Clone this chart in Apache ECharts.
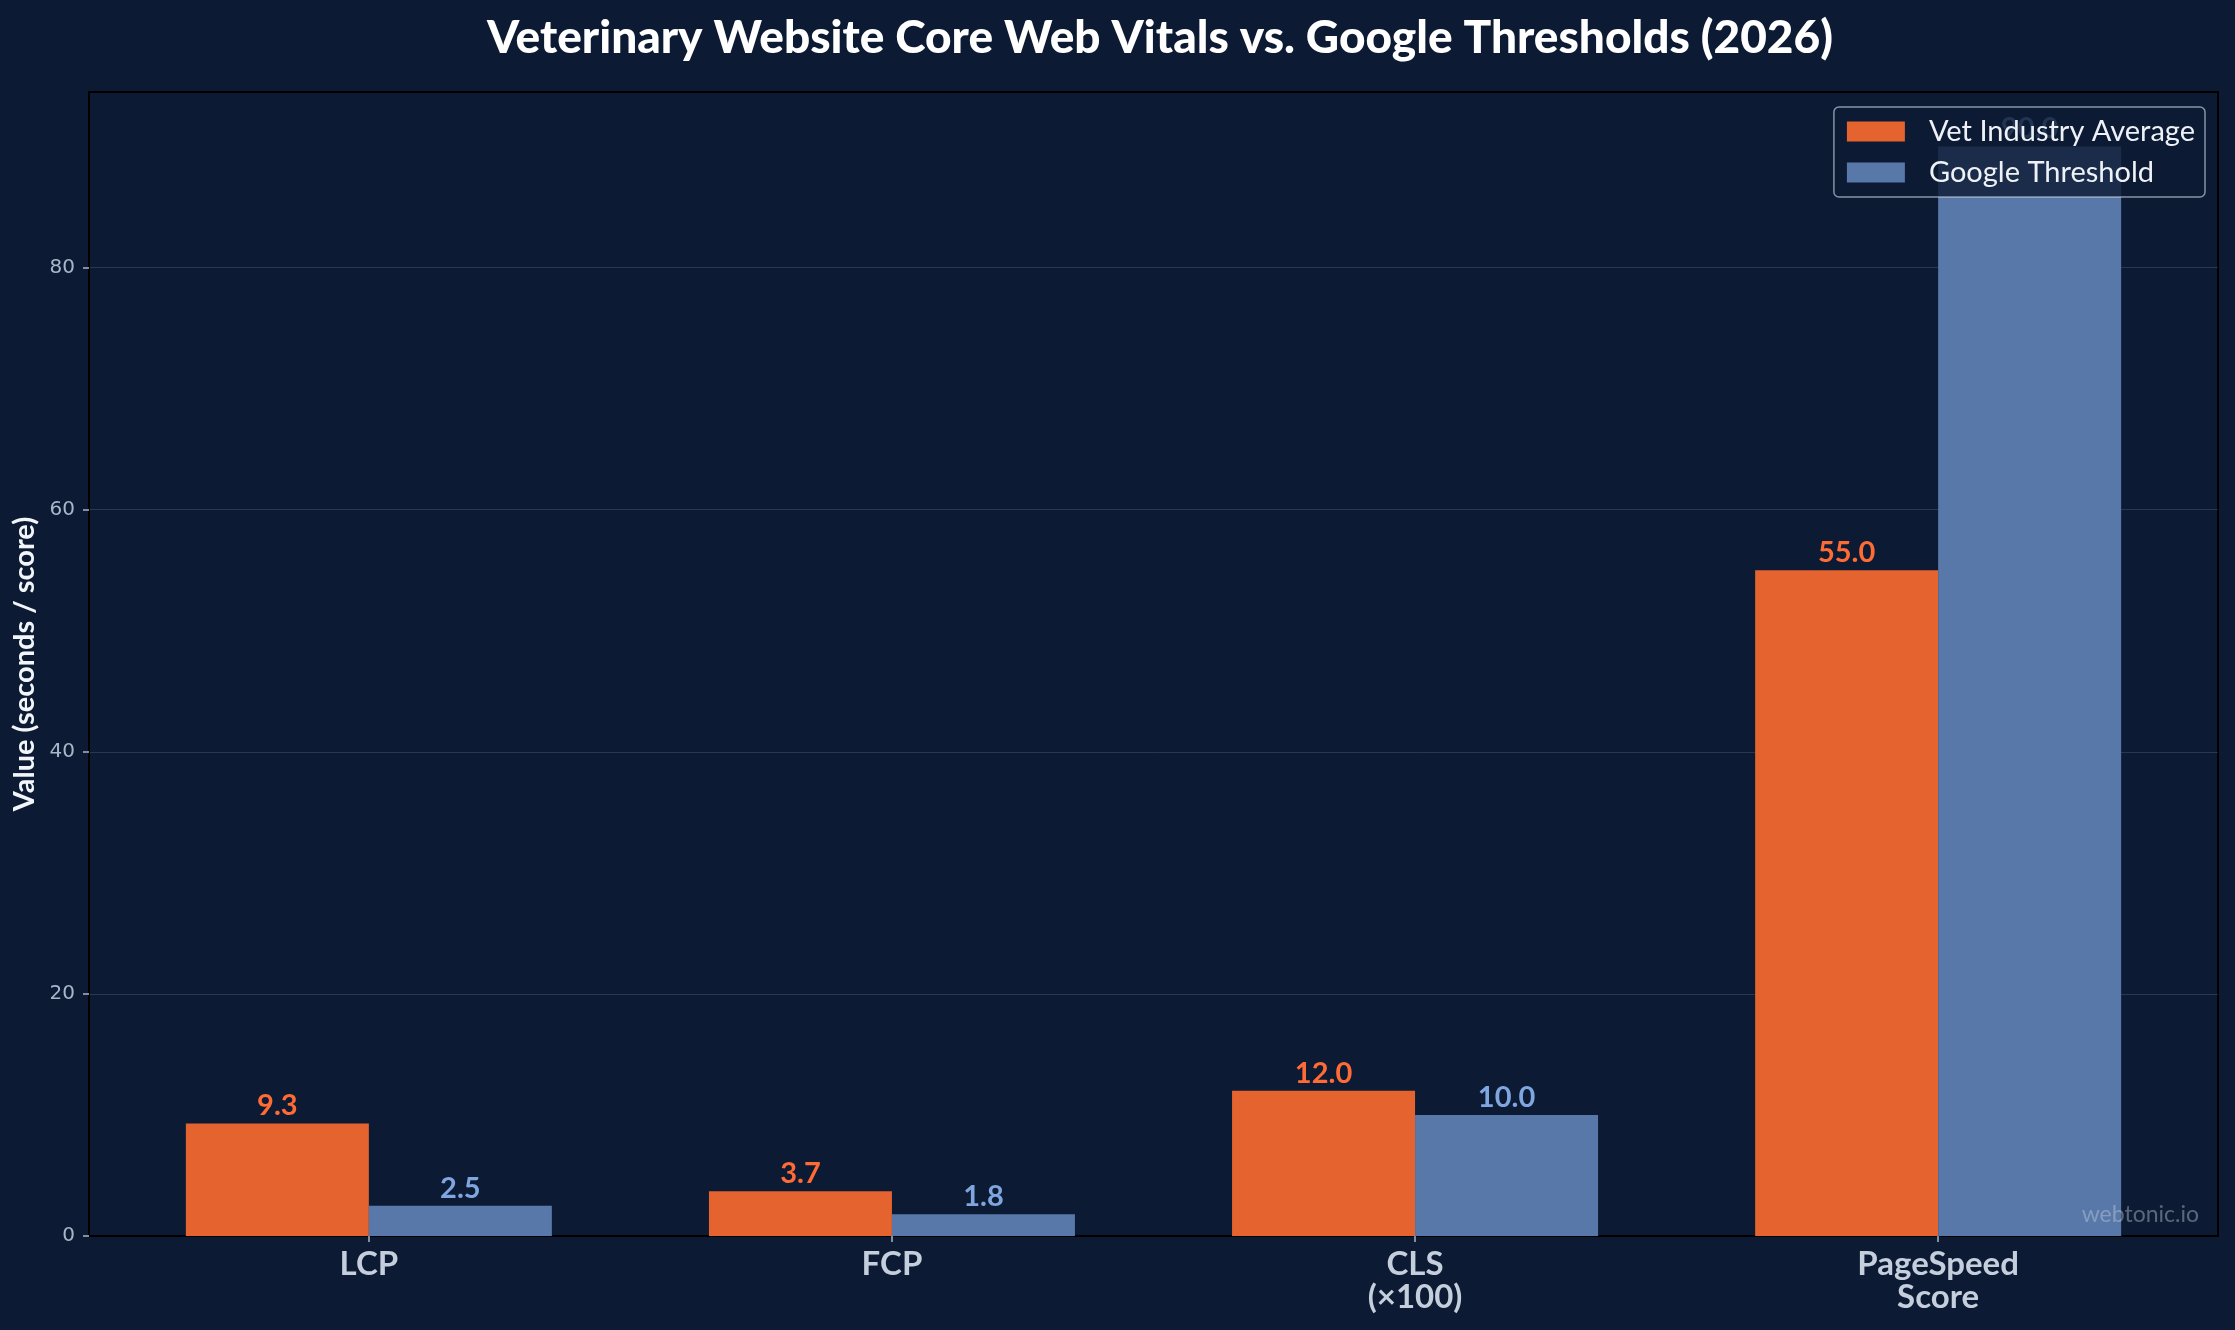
<!DOCTYPE html>
<html>
<head>
<meta charset="utf-8">
<title>Veterinary Website Core Web Vitals</title>
<script src="https://cdn.jsdelivr.net/npm/echarts@6/dist/echarts.min.js"></script>
<style>
    html, body { margin: 0; padding: 0; background: #0c1b33; }
    #chart { width: 2235px; height: 1330px; }
</style>
</head>
<body>
<div id="chart"></div>
<script>
var categories = ['LCP', 'FCP', 'CLS\n(×100)', 'PageSpeed\nScore'];
var vetAverage = [9.3, 3.7, 12.0, 55.0];
var googleThreshold = [2.5, 1.8, 10.0, 90.0];
var yTicks = [0, 20, 40, 60, 80];

function toPoints(values) {
    var pts = [];
    values.forEach(function (v, i) { pts.push([i, v]); });
    return pts;
}

var chartDom = document.getElementById('chart');
var myChart = echarts.init(chartDom);
var option;

option = {
    backgroundColor: '#0c1b33',
    animation: false,
    title: {
        text: 'Veterinary Website Core Web Vitals vs. Google Thresholds (2026)',
        left: 1155,
        textAlign: 'center',
        top: 10,
        textStyle: {
            color: '#ffffff',
            fontFamily: 'Lato',
            fontWeight: 900,
            fontSize: 46
        }
    },
    grid: {
        left: 89,
        right: 17,
        top: 92,
        bottom: 94,
        outerBoundsMode: 'none',
        show: true,
        backgroundColor: '#0c1b33',
        borderColor: '#000000',
        borderWidth: 2
    },
    legend: {
        data: ['Vet Industry Average', 'Google Threshold'],
        orient: 'vertical',
        right: 30,
        top: 107,
        icon: 'rect',
        itemWidth: 58,
        itemHeight: 20,
        itemGap: 12,
        padding: [10, 10, 10, 13],
        backgroundColor: 'rgba(12,27,51,0.82)',
        borderColor: 'rgba(200,210,225,0.65)',
        borderWidth: 1.5,
        borderRadius: 5,
        textStyle: {
            color: '#eef2f8',
            fontFamily: 'Lato',
            fontSize: 29,
            padding: [0, 0, 0, 19]
        }
    },
    xAxis: {
        type: 'value',
        min: -0.535,
        max: 3.535,
        splitLine: { show: false },
        axisLine: { show: true, onZero: false, lineStyle: { color: '#000000', width: 2 } },
        axisTick: {
            show: true,
            customValues: [0, 1, 2, 3],
            length: 6,
            lineStyle: { color: '#a9b5c8', width: 1.5 }
        },
        axisLabel: {
            customValues: [0, 1, 2, 3],
            margin: 12,
            color: '#c5cedd',
            fontFamily: 'Lato',
            fontWeight: 'bold',
            fontSize: 33,
            lineHeight: 33,
            formatter: function (v) {
                return categories[Math.round(v)];
            }
        }
    },
    yAxis: {
        type: 'value',
        min: 0,
        max: 94.5,
        interval: 20,
        name: 'Value (seconds / score)',
        nameLocation: 'middle',
        nameGap: 50,
        nameRotate: 90,
        nameTextStyle: {
            color: '#f2f5fa',
            fontFamily: 'Lato',
            fontWeight: 'bold',
            fontSize: 29
        },
        axisLine: { show: true, onZero: false, lineStyle: { color: '#000000', width: 2 } },
        axisTick: {
            show: true,
            length: 6,
            customValues: yTicks,
            lineStyle: { color: '#a9b5c8', width: 1.5 }
        },
        axisLabel: {
            customValues: yTicks,
            margin: 14,
            color: '#a9b5c8',
            fontFamily: 'DejaVu Sans',
            fontSize: 20
        },
        splitLine: {
            show: true,
            lineStyle: { color: 'rgba(200,210,230,0.16)', width: 1 }
        }
    },
    series: [{
        name: 'Vet Industry Average',
        type: 'bar',
        data: toPoints(vetAverage),
        barWidth: 183,
        barGap: '0%',
        itemStyle: { color: '#e4632e' },
        label: {
            show: true,
            position: 'top',
            distance: 3,
            color: '#ff6b35',
            fontFamily: 'Lato',
            fontWeight: 'bold',
            fontSize: 29,
            formatter: function (p) { return p.value[1].toFixed(1); }
        }
    },
    {
        name: 'Google Threshold',
        type: 'bar',
        data: toPoints(googleThreshold),
        barWidth: 183,
        barGap: '0%',
        itemStyle: { color: '#5878a9' },
        label: {
            show: true,
            position: 'top',
            distance: 3,
            color: '#7fa6df',
            fontFamily: 'Lato',
            fontWeight: 'bold',
            fontSize: 29,
            formatter: function (p) { return p.value[1].toFixed(1); }
        }
    }
    ],
    graphic: [{
        type: 'text',
        right: 36,
        bottom: 104,
        z: 100,
        style: {
            text: 'webtonic.io',
            fill: 'rgba(200,210,225,0.42)',
            font: '23px Lato'
        }
    }]
};

myChart.setOption(option);
</script>
</body>
</html>
